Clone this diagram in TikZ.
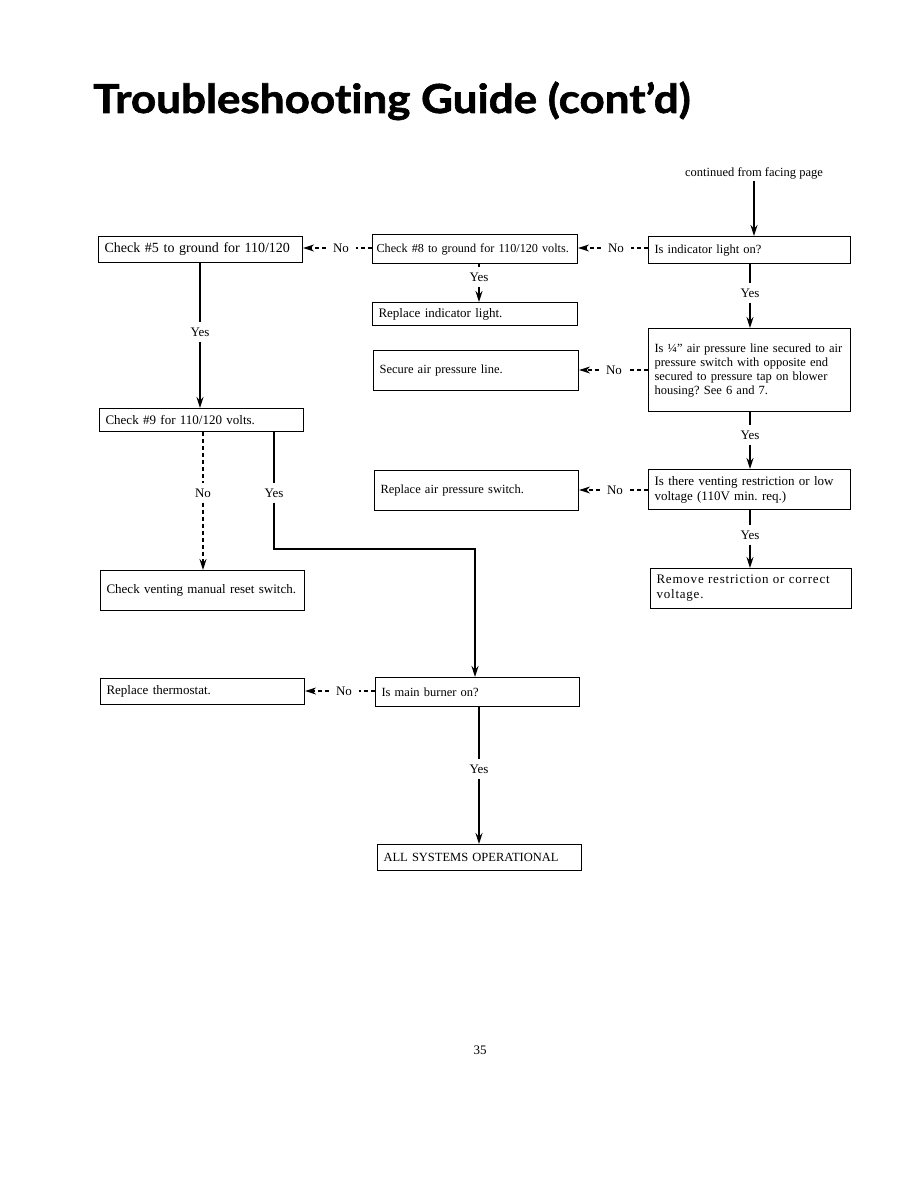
\documentclass[tikz,border=0pt]{standalone}
\usepackage{fontspec}
\setmainfont{Liberation Serif}
\newfontfamily\titlefont{Lato}[FakeStretch=1.1,FakeBold=1.6,Ligatures=NoCommon]
\usetikzlibrary{arrows.meta}
\frenchspacing
\begin{document}
\begin{tikzpicture}[x=1pt,y=-1pt,
  box/.style={draw, line width=1.1pt, anchor=north west, inner xsep=6pt, inner ysep=0pt, align=left},
  conn/.style={line width=1.5pt},
  dconn/.style={line width=1.4pt, dash pattern=on 4pt off 3pt},
  tip/.style={-{Stealth[length=11pt,width=7pt]}},
  lbl/.style={inner xsep=7pt, inner ysep=5pt, font=\fontsize{13}{13}\selectfont},
  fa/.style={font=\fontsize{12.5}{14}\selectfont},
  fb/.style={font=\fontsize{13}{15}\selectfont},
  fc/.style={font=\fontsize{14}{16}\selectfont},
]
\useasboundingbox (0,0) rectangle (918,1188);

% title and page number
\node[anchor=base west, inner sep=0pt, font=\titlefont\bfseries\fontsize{40}{40}\selectfont] (title) at (93,113) {Troubleshooting Guide (cont’d)};
\node[font=\fontsize{13}{13}\selectfont] (pg) at (480,1050) {35};
\node[fa, inner sep=2pt] (cont) at (754,173) {continued from facing page};

% boxes
\node[box, fc, text width=192pt, minimum height=26pt] (c5) at (98,236) {Check \#5 to ground for 110/120};
\node[box, font=\fontsize{12.2}{14}\selectfont, inner xsep=4pt, text width=197pt, minimum height=29pt] (c8) at (372,234) {Check \#8 to ground for 110/120 volts.};
\node[box, fa, text width=190pt, minimum height=27pt] (ind) at (648,236) {Is indicator light on?};
\node[box, fb, text width=193pt, minimum height=23pt] (repl) at (372,302) {Replace indicator light.};
\node[box, fa, text width=190pt, minimum height=83pt] (qair) at (648,328) {\makebox[\hsize][s]{Is ¼" air pressure line secured to air}\\\makebox[\hsize][s]{pressure switch with opposite end}\\\makebox[\hsize][s]{secured to pressure tap on blower}\\housing? See 6 and 7.};
\node[box, fa, text width=193pt, minimum height=40pt] (secure) at (373,350) {Secure air pressure line.};
\node[box, fa, text width=192pt, minimum height=40pt] (rsw) at (374,470) {Replace air pressure switch.};
\node[box, fb, text width=190pt, minimum height=40pt] (vent) at (648,469) {\makebox[\hsize][s]{Is there venting restriction or low}\\voltage (110V min. req.)};
\node[box, fb, text width=189pt, minimum height=40pt] (remove) at (650,568) {{\addfontfeatures{LetterSpace=6}\makebox[\hsize][s]{Remove restriction or correct}\\voltage.}};
\node[box, fb, text width=192pt, minimum height=23pt] (c9) at (99,408) {Check \#9 for 110/120 volts.};
\node[box, fb, text width=192pt, minimum height=40pt] (reset) at (100,570) {Check venting manual reset switch.};
\node[box, fb, text width=192pt, minimum height=26pt] (thermo) at (100,678) {Replace thermostat.};
\node[box, fa, text width=192pt, minimum height=29pt] (burner) at (375,677) {Is main burner on?};
\node[box, fa, text width=192pt, minimum height=26pt] (all) at (377,844) {ALL SYSTEMS OPERATIONAL};

% labels
\node[lbl] (n1) at (341,248) {No};
\node[lbl] (n2) at (616,248) {No};
\node[lbl] (n3) at (614,370) {No};
\node[lbl] (n4) at (615,490) {No};
\node[lbl] (n5) at (344,691) {No};
\node[lbl] (n6) at (203,493) {No};
\node[lbl] (y1) at (479,277) {Yes};
\node[lbl] (y2) at (750,293) {Yes};
\node[lbl] (y3) at (200,332) {Yes};
\node[lbl] (y4) at (750,435) {Yes};
\node[lbl] (y5) at (750,535) {Yes};
\node[lbl] (y6) at (274,493) {Yes};
\node[lbl] (y7) at (479,769) {Yes};
\coordinate (bend) at (274,549);

% connectors
\draw[conn,tip] (cont.south) -- (cont.south |- ind.north);
% No branches (horizontal)
\draw[dconn] (n2.east -| ind.west) -- (n2.east);
\draw[dconn,tip] (n2.west) -- (n2.west -| c8.east);
\draw[dconn] (n1.east -| c8.west) -- (n1.east);
\draw[dconn,tip] (n1.west) -- (n1.west -| c5.east);
\draw[dconn] (n3.east -| qair.west) -- (n3.east);
\draw[dconn,tip] (n3.west) -- (n3.west -| secure.east);
\draw[dconn] (n4.east -| vent.west) -- (n4.east);
\draw[dconn,tip] (n4.west) -- (n4.west -| rsw.east);
\draw[dconn] (n5.east -| burner.west) -- (n5.east);
\draw[dconn,tip] (n5.west) -- (n5.west -| thermo.east);
% Yes branches (vertical)
\draw[conn] (y1.north |- c8.south) -- (y1.north);
\draw[conn,tip] (y1.south) -- (y1.south |- repl.north);
\draw[conn] (y2.north |- ind.south) -- (y2.north);
\draw[conn,tip] (y2.south) -- (y2.south |- qair.north);
\draw[conn] (y4.north |- qair.south) -- (y4.north);
\draw[conn,tip] (y4.south) -- (y4.south |- vent.north);
\draw[conn] (y5.north |- vent.south) -- (y5.north);
\draw[conn,tip] (y5.south) -- (y5.south |- remove.north);
\draw[conn] (y3.north |- c5.south) -- (y3.north);
\draw[conn,tip] (y3.south) -- (y3.south |- c9.north);
\draw[dconn] (n6.north |- c9.south) -- (n6.north);
\draw[dconn,tip] (n6.south) -- (n6.south |- reset.north);
\draw[conn] (y6.north |- c9.south) -- (y6.north);
\draw[conn,tip] (y6.south) -- (bend) -| ([xshift=100pt]burner.north west);
\draw[conn] (y7.north |- burner.south) -- (y7.north);
\draw[conn,tip] (y7.south) -- (y7.south |- all.north);
\end{tikzpicture}
\end{document}
